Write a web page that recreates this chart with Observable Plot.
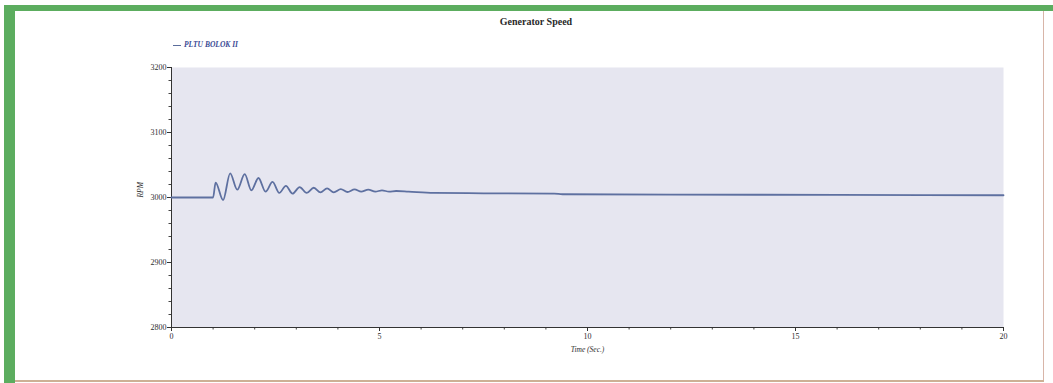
<!DOCTYPE html>
<html>
<head>
<meta charset="utf-8">
<script src="https://cdn.jsdelivr.net/npm/d3@7"></script>
<script src="https://cdn.jsdelivr.net/npm/@observablehq/plot@0.6"></script>
<style>
  html, body { margin: 0; padding: 0; background: #ffffff; }
  #wrap { position: relative; width: 1053px; height: 383px; overflow: hidden; background: #fff; font-family: "Liberation Serif", serif; }
  .bar { position: absolute; }
  #title { position: absolute; left: 436px; width: 200px; top: 16px; text-align: center; font-weight: bold; font-size: 10px; color: #2a2a2a; }
  #legend { position: absolute; left: 173px; top: 40px; font-style: italic; font-weight: bold; font-size: 7.5px; color: #3d4d96; white-space: nowrap; }
  #legend .sw { display: inline-block; width: 8px; height: 1.5px; background: #5b6d9c; vertical-align: middle; margin-right: 3px; }
  #chart { position: absolute; left: 0; top: 55px; }
</style>
</head>
<body>
<div id="wrap">
  <div class="bar" style="left:4px;top:5px;width:1049px;height:6px;background:#5cad5f;"></div>
  <div class="bar" style="left:4px;top:5px;width:11px;height:378px;background:#5cad5f;"></div>
  <div class="bar" style="left:1043px;top:11px;width:1px;height:370px;background:#d8b5a8;"></div>
  <div class="bar" style="left:15px;top:380px;width:1029px;height:2px;background:#cdb095;"></div>
  <div id="title">Generator Speed</div>
  <div id="legend"><span class="sw"></span>PLTU BOLOK II</div>
  <div id="chart"></div>
</div>
<script>
// Series: PLTU BOLOK II generator speed (RPM) vs time (s)
const time = [0, 1.0, 1.06, 1.24, 1.41, 1.58, 1.76, 1.92, 2.09, 2.26, 2.43, 2.59, 2.75, 2.91, 3.08, 3.25, 3.42, 3.58, 3.74, 3.9, 4.07, 4.23, 4.4, 4.56, 4.73, 4.9, 5.06, 5.23, 5.4, 5.7, 6.3, 7.5, 9.2, 9.4, 12, 16, 20];
const rpm  = [3000, 3000, 3023, 2996, 3037, 3012, 3036, 3011, 3030, 3009, 3024, 3007, 3018, 3006, 3016, 3007, 3015, 3008, 3014, 3008, 3013, 3008.5, 3012.5, 3009, 3012, 3009, 3011, 3009, 3010, 3009, 3007, 3006.5, 3006, 3005, 3004.5, 3004, 3003.5];

const xMajor = [0, 5, 10, 15, 20];
const xMajorLabels = ["0", "5", "10", "15", "20"];
const xMinor = d3.range(0, 21, 1);
const yMajor = [2800, 2900, 3000, 3100, 3200];
const yMajorLabels = ["2800", "2900", "3000", "3100", "3200"];
const yMinor = d3.range(2800, 3201, 20);

const data = time.map((t, i) => ({t, v: rpm[i]}));

const chart = Plot.plot({
  width: 1053,
  height: 320,
  marginLeft: 171,
  marginRight: 50,
  marginTop: 12,
  marginBottom: 48,
  style: {fontFamily: "Liberation Serif, serif", fontSize: "8px", color: "#2e2e2e", background: "transparent"},
  x: {domain: [0, 20], axis: null},
  y: {domain: [2800, 3200], axis: null},
  marks: [
    Plot.frame({fill: "#e6e6f0", stroke: null}),
    Plot.axisY(yMinor, {tickSize: 2.5, text: null, label: null, stroke: "#444"}),
    Plot.axisY(yMajor, {tickSize: 4, tickPadding: 1, label: null, stroke: "#333",
      tickFormat: d => yMajorLabels[yMajor.indexOf(d)]}),
    Plot.axisX(xMinor, {tickSize: 2.5, text: null, label: null, stroke: "#444"}),
    Plot.axisX(xMajor, {tickSize: 4, tickPadding: 2, label: null, stroke: "#333",
      tickFormat: d => xMajorLabels[xMajor.indexOf(d)]}),
    Plot.ruleY([2800], {stroke: "#333"}),
    Plot.ruleX([0], {stroke: "#333"}),
    Plot.line(data, {x: "t", y: "v", stroke: "#5e70a0", strokeWidth: 1.8, curve: "monotone-x"}),
    Plot.text(["Time (Sec.)"], {frameAnchor: "bottom", dy: 24, fontStyle: "italic", fill: "#2e2e2e", fontSize: 7.5}),
    Plot.text(["RPM"], {frameAnchor: "left", dx: -31, rotate: -90, fontStyle: "italic", fill: "#2e2e2e", fontSize: 7.5})
  ]
});
document.getElementById("chart").appendChild(chart);
</script>
</body>
</html>
